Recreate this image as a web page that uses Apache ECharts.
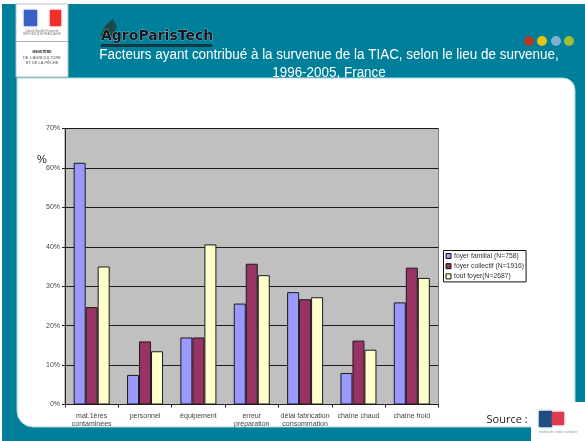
<!DOCTYPE html>
<html>
<head>
<meta charset="utf-8">
<style>html,body{margin:0;padding:0;background:#fff}#c{width:585px;height:441px}</style>
<script src="https://cdn.jsdelivr.net/npm/echarts@6/dist/echarts.min.js"></script>
</head>
<body>
<div id="c"></div>
<script>
var categories = ['mat.1ères\ncontaminées','personnel','équipement','erreur\npréparation','délai fabrication\nconsommation','chaîne chaud','chaîne froid'];
var familial = [61.3, 7.5, 17, 25.6, 28.5, 8, 25.9];
var collectif = [24.7, 16, 17, 35.7, 26.7, 16.2, 34.7];
var toutFoyer = [35, 13.5, 40.6, 32.8, 27.2, 13.9, 32.1];
var seriesNames = ['foyer familial (N=758)', 'foyer collectif (N=1916)', 'tout foyer(N=2687)'];
var titleLines = 'Facteurs ayant contribué à la survenue de la TIAC, selon le lieu de survenue,\n1996-2005, France';

var TEAL = '#007f9b';
function bar(name, data, color) {
  return {
    name: name, type: 'bar', data: data, barWidth: 12, barGap: 0, z: 5,
    itemStyle: { color: color, borderColor: '#1a1a1a', borderWidth: 1 }
  };
}
var chart = echarts.init(document.getElementById('c'), null, { renderer: 'canvas' });
chart.setOption({
  animation: false,
  backgroundColor: '#fff',
  textStyle: { fontFamily: '"Liberation Sans", Arial, sans-serif' },
  grid: { left: 65, top: 128.5, width: 373.5, height: 276, show: true, backgroundColor: '#c0c0c0', borderColor: '#808080', borderWidth: 1 },
  legend: {
    left: 443.5, top: 250.5, orient: 'vertical', icon: 'rect', itemWidth: 5, itemHeight: 5, itemGap: 3.2,
    padding: [2, 2, 2, 2], borderColor: '#111', borderWidth: 1, backgroundColor: '#fff', z: 6,
    textStyle: { fontSize: 6.8, color: '#333', padding: [0, 0, 0, -2] },
    itemStyle: { borderColor: '#111', borderWidth: 1 },
    data: seriesNames
  },
  xAxis: {
    type: 'category', data: categories, boundaryGap: true,
    axisLine: { lineStyle: { color: '#222', width: 1 } },
    axisTick: { show: true, length: 3, inside: false, lineStyle: { color: '#222' } },
    axisLabel: { interval: 0, fontSize: 7, color: '#444', lineHeight: 8.5, margin: 7 }
  },
  yAxis: {
    type: 'value', min: 0, max: 70, interval: 10,
    axisLine: { show: true, lineStyle: { color: '#222', width: 1 } },
    axisTick: { show: true, length: 3, lineStyle: { color: '#222' } },
    axisLabel: { fontSize: 7, color: '#444', margin: 5, formatter: '{value}%' },
    splitLine: { show: true, lineStyle: { color: '#1c1c1c', width: 1 } }
  },
  series: [
    bar(seriesNames[0], familial, '#9999ff'),
    bar(seriesNames[1], collectif, '#993366'),
    bar(seriesNames[2], toutFoyer, '#ffffcc')
  ],
  graphic: { elements: [
    { type: 'rect', z: -10, silent: true, shape: { x: 2, y: 4, width: 583, height: 437 }, style: { fill: TEAL } },
    { type: 'rect', z: -9, silent: true, shape: { x: 17, y: 78, width: 558, height: 349, r: [0, 12, 16, 16] }, style: { fill: '#fff', stroke: '#a8dbe4', lineWidth: 1 } },
    { type: 'rect', z: 1, silent: true, shape: { x: 16, y: 4, width: 52, height: 73 }, style: { fill: '#fff', stroke: '#b5c4c8', lineWidth: 1 } },
    { type: 'line', z: 1, silent: true, shape: { x1: 16, y1: 41.5, x2: 68, y2: 41.5 }, style: { stroke: '#b5b5b5', lineWidth: 1 } },
    { type: 'rect', z: 2, silent: true, shape: { x: 24, y: 10, width: 13, height: 16 }, style: { fill: '#3a62c4', shadowBlur: 2, shadowColor: '#3a62c4' } },
    { type: 'rect', z: 2, silent: true, shape: { x: 50, y: 10, width: 11, height: 16 }, style: { fill: '#f0302c', shadowBlur: 2, shadowColor: '#f0302c' } },
    { type: 'text', z: 2, silent: true, style: { x: 42, y: 29, text: 'Liberté Égalité Fraternité\nRÉPUBLIQUE FRANÇAISE', fill: '#777', font: '3px "Liberation Sans"', align: 'center', verticalAlign: 'top', lineHeight: 3.5 } },
    { type: 'text', z: 2, silent: true, style: { x: 42, y: 50, text: 'MINISTÈRE', fill: '#222', font: 'bold 3.5px "Liberation Sans"', align: 'center', verticalAlign: 'top' } },
    { type: 'text', z: 2, silent: true, style: { x: 42, y: 55.5, text: "DE L'AGRICULTURE\nET DE LA PÊCHE", fill: '#555', font: '4px "Liberation Sans"', align: 'center', verticalAlign: 'top', lineHeight: 5 } },
    { type: 'polygon', z: 3, silent: true, shape: { points: [[100,36],[106,25],[113,19],[117,27],[112,36]] }, style: { fill: '#1f3f3a', opacity: 0.85 } },
    { type: 'text', z: 3, silent: true, style: { x: 101, y: 36, text: 'AgroParisTech', fill: '#101820', stroke: '#c8d8dc', lineWidth: 0.6, font: 'bold 14px "DejaVu Sans"', align: 'left', verticalAlign: 'middle' } },
    { type: 'rect', z: 3, silent: true, shape: { x: 101, y: 44, width: 111, height: 3 }, style: { fill: '#102830', opacity: 0.8 } },
    { type: 'circle', z: 3, silent: true, shape: { cx: 529, cy: 41, r: 5 }, style: { fill: '#b93a2b' } },
    { type: 'circle', z: 3, silent: true, shape: { cx: 542, cy: 41, r: 5 }, style: { fill: '#e6c310' } },
    { type: 'circle', z: 3, silent: true, shape: { cx: 556, cy: 41, r: 5 }, style: { fill: '#7fb0cf' } },
    { type: 'circle', z: 3, silent: true, shape: { cx: 569, cy: 41, r: 5 }, style: { fill: '#a2bd30' } },
    { type: 'text', z: 4, silent: true, x: 329, y: 64, scaleX: 0.96, style: { x: 0, y: 0, text: titleLines, fill: '#fff', font: '14px "Liberation Sans"', align: 'center', verticalAlign: 'middle', lineHeight: 18 } },
    { type: 'text', z: 6, silent: true, style: { x: 37, y: 160, text: '%', fill: '#222', font: '11px "Liberation Sans"', align: 'left', verticalAlign: 'middle' } },
    { type: 'text', z: 6, silent: true, style: { x: 486.5, y: 420, text: 'Source :', fill: '#222', font: '11px "Open Sans"', align: 'left', verticalAlign: 'middle' } },
    { type: 'rect', z: 6, silent: true, shape: { x: 531, y: 402, width: 54, height: 39 }, style: { fill: '#fff' } },
    { type: 'rect', z: 7, silent: true, shape: { x: 539, y: 411, width: 13, height: 16 }, style: { fill: '#1f4e80', shadowBlur: 2, shadowColor: '#1f4e80' } },
    { type: 'rect', z: 7, silent: true, shape: { x: 552, y: 412, width: 12, height: 13 }, style: { fill: '#e03a52', shadowBlur: 2, shadowColor: '#e03a52' } },
    { type: 'text', z: 7, silent: true, style: { x: 539, y: 430, text: 'Institut de veille sanitaire', fill: '#8a9aa8', font: '3.5px "Liberation Sans"', align: 'left', verticalAlign: 'top' } }
  ] }
});
</script>
</body>
</html>
